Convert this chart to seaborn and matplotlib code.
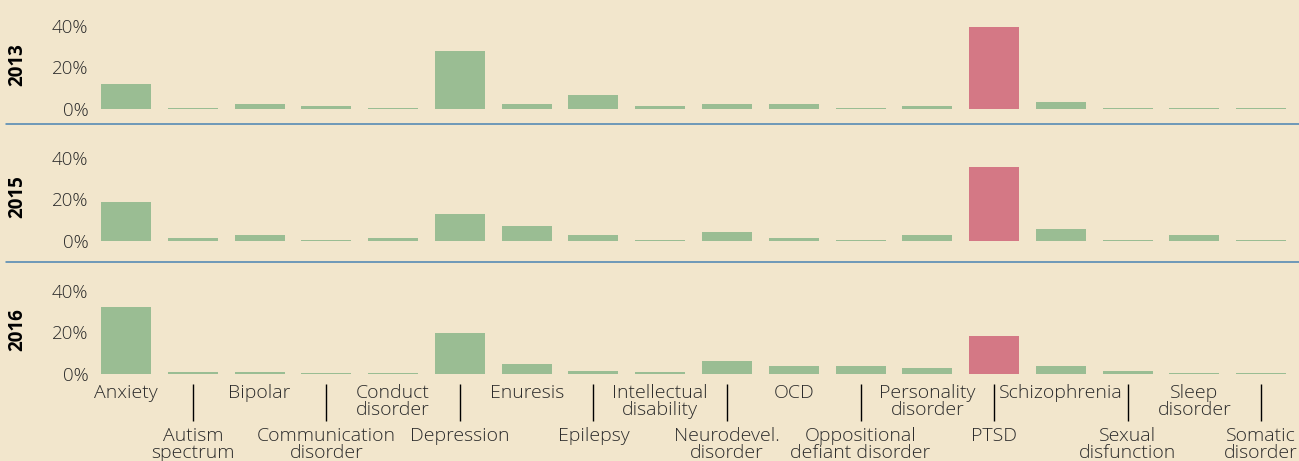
import numpy as np
import pandas as pd
import matplotlib
matplotlib.use("Agg")
import matplotlib.pyplot as plt
import seaborn as sns
from matplotlib.lines import Line2D

categories = ["Anxiety", "Autism spectrum", "Bipolar", "Communication disorder",
              "Conduct disorder", "Depression", "Enuresis", "Epilepsy",
              "Intellectual disability", "Neurodevel. disorder", "OCD",
              "Oppositional defiant disorder", "Personality disorder", "PTSD",
              "Schizophrenia", "Sexual disfunction", "Sleep disorder", "Somatic disorder"]
tick_labels = ["Anxiety", "Autism\nspectrum", "Bipolar", "Communication\ndisorder",
               "Conduct\ndisorder", "Depression", "Enuresis", "Epilepsy",
               "Intellectual\ndisability", "Neurodevel.\ndisorder", "OCD",
               "Oppositional\ndefiant disorder", "Personality\ndisorder", "PTSD",
               "Schizophrenia", "Sexual\ndisfunction", "Sleep\ndisorder", "Somatic\ndisorder"]
years = ["2013", "2015", "2016"]
values_2013 = [11.9, 0.1, 2.3, 1.3, 0.1, 27.9, 2.3, 6.6, 1.3, 2.3, 2.3, 0.1, 1.3, 39.5, 3.2, 0.1, 0.1, 0.1]
values_2015 = [18.7, 1.3, 2.8, 0.1, 1.3, 12.9, 7.1, 2.8, 0.1, 4.2, 1.3, 0.1, 2.8, 35.6, 5.6, 0.1, 2.8, 0.1]
values_2016 = [32.2, 0.8, 0.8, 0.1, 0.1, 19.6, 4.7, 1.3, 0.8, 6.1, 3.7, 3.7, 2.7, 18.2, 3.7, 1.3, 0.4, 0.4]
highlight = "PTSD"
y_ticks = [0, 20, 40]
y_tick_labels = ["0%", "20%", "40%"]

BG = "#f2e6cc"
GREEN = "#9abd93"
RED = "#d47885"
BLUE = "#4a84b2"
TXT = "#2b2b2b"

sns.set_theme(style="white")
plt.rcParams["font.family"] = ["Open Sans", "DejaVu Sans"]

W, H = 1299, 461
fig = plt.figure(figsize=(W / 100, H / 100), dpi=100, facecolor=BG)

left = 92.6 / W
width = 1202 / W
height = 93.15 / H
bottoms = [352.3 / H, 220.3 / H, 87.3 / H]
palette = {c: (RED if c == highlight else GREEN) for c in categories}

for i, (yr, vals) in enumerate(zip(years, [values_2013, values_2015, values_2016])):
    ax = fig.add_axes([left, bottoms[i], width, height])
    ax.set_facecolor("none")
    df = pd.DataFrame({"cat": categories, "val": vals})
    sns.barplot(data=df, x="cat", y="val", hue="cat", palette=palette, legend=False,
                order=categories, hue_order=categories, width=0.75, saturation=1,
                ax=ax, linewidth=0)
    ax.set_xlim(-0.5, len(categories) - 0.5)
    ax.set_ylim(0, 45)
    for s in ax.spines.values():
        s.set_visible(False)
    ax.set_yticks(y_ticks, labels=y_tick_labels)
    ax.tick_params(axis="y", length=0, pad=3, labelsize=13.5, labelcolor=TXT)
    for t in ax.get_yticklabels():
        t.set_fontweight("light")
    ax.set_ylabel(yr, fontsize=13.5, fontweight="bold", color="black")
    ax.yaxis.label.set_va("center")
    ax.yaxis.set_label_coords(-0.0629, 0.475)
    ax.set_xlabel("")
    if i < 2:
        ax.set_xticks([])
    else:
        even = list(range(0, len(categories), 2))
        odd = list(range(1, len(categories), 2))
        ax.set_xticks(even, labels=[tick_labels[j] for j in even])
        ax.set_xticks(odd, labels=[tick_labels[j] for j in odd], minor=True)
        ax.spines["bottom"].set_position(("outward", 7.2))
        ax.tick_params(axis="x", which="major", bottom=True, length=0, pad=0,
                       labelsize=14, labelcolor=TXT)
        ax.tick_params(axis="x", which="minor", bottom=True, length=26.6, width=1,
                       color="black", pad=4.5, labelsize=14, labelcolor=TXT)
        for t in ax.get_xticklabels(which="both"):
            t.set_linespacing(0.92)
            t.set_fontweight("light")

for ypix in [124.3, 261.7]:
    fig.add_artist(Line2D([6 / W, 1.0], [1 - ypix / H] * 2, transform=fig.transFigure,
                          color=BLUE, lw=1.1))

fig.savefig("out.png", dpi=100, facecolor=BG)
